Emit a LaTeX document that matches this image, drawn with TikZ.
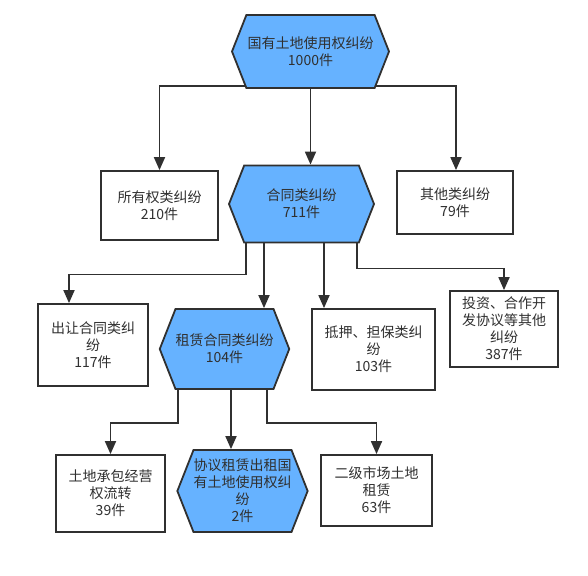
\documentclass[tikz,border=0pt]{standalone}
\usepackage{fontspec}
\newfontfamily\cjk{Noto Sans CJK SC}
\usetikzlibrary{arrows.meta,shapes.symbols,backgrounds}
\definecolor{linegray}{HTML}{303030}
\definecolor{hexblue}{HTML}{66B2FF}
\tikzset{
  box/.style={shape=rectangle,draw=linegray,line width=1.8pt,fill=white,align=center,inner sep=0pt,
    text=linegray,font=\cjk\fontsize{14}{17}\selectfont},
  hexa/.style={box,shape=signal,signal to=west and east,signal pointer angle=137,fill=hexblue},
  arr/.style={draw=linegray,line width=1.8pt,-{Triangle[width=11pt,length=13pt]}}
}
\begin{document}
\begin{tikzpicture}[x=1pt,y=-1pt]
  \useasboundingbox (0,0) rectangle (588,575);
  \node[hexa,minimum width=157pt,minimum height=73pt] (land) at (310.5,51.5) {国有土地使用权纠纷\\1000件};
  \node[box,minimum width=117pt,minimum height=69pt] (own) at (159.5,205.5) {所有权类纠纷\\210件};
  \node[hexa,minimum width=145pt,minimum height=77pt] (contract) at (301.5,204) {合同类纠纷\\711件};
  \node[box,minimum width=116pt,minimum height=63pt] (other) at (455,202.5) {其他类纠纷\\79件};
  \node[box,minimum width=110pt,minimum height=82pt] (transfer) at (93,345) {出让合同类纠\\纷\\117件};
  \node[hexa,minimum width=125pt,minimum height=80pt] (lease) at (224.5,349) {租赁合同类纠纷\\104件};
  \node[box,minimum width=123pt,minimum height=81pt] (mortgage) at (373.5,349.5) {抵押、担保类纠\\纷\\103件};
  \node[box,minimum width=108pt,minimum height=76pt] (invest) at (504,329) {投资、合作开\\发协议等其他\\纠纷\\387件};
  \node[box,minimum width=109pt,minimum height=77pt] (farm) at (110.5,493.5) {土地承包经营\\权流转\\39件};
  \node[hexa,minimum width=129pt,minimum height=82pt] (agree) at (242.5,491) {协议租赁出租国\\有土地使用权纠\\纷\\2件};
  \node[box,minimum width=111pt,minimum height=71pt] (market) at (376.5,490.5) {二级市场土地\\租赁\\63件};
  \begin{scope}[on background layer]
    \draw[arr] ([yshift=3]land.south) -| (own.north);
    \draw[arr] (land.south) -- (land.south |- contract.north);
    \draw[arr] ([yshift=3]land.south) -| ([xshift=1]other.north);
    \draw[arr] ([xshift=-55.5]contract.south) -- ++(0,31) -| ([xshift=-24]transfer.north);
    \draw[arr] ([xshift=-37.5]contract.south) -- ([xshift=-37.5]contract.south |- lease.north);
    \draw[arr] ([xshift=22.5]contract.south) -- ([xshift=22.5]contract.south |- mortgage.north);
    \draw[arr] ([xshift=55.5]contract.south) -- ++(0,25) -| (invest.north);
    \draw[arr] ([xshift=-46.5]lease.south) -- ++(0,33) -| (farm.north);
    \draw[arr] ([xshift=6.5]lease.south) -- ([xshift=6.5]lease.south |- agree.north);
    \draw[arr] ([xshift=42.5]lease.south) -- ++(0,33) -| (market.north);
  \end{scope}
\end{tikzpicture}
\end{document}
